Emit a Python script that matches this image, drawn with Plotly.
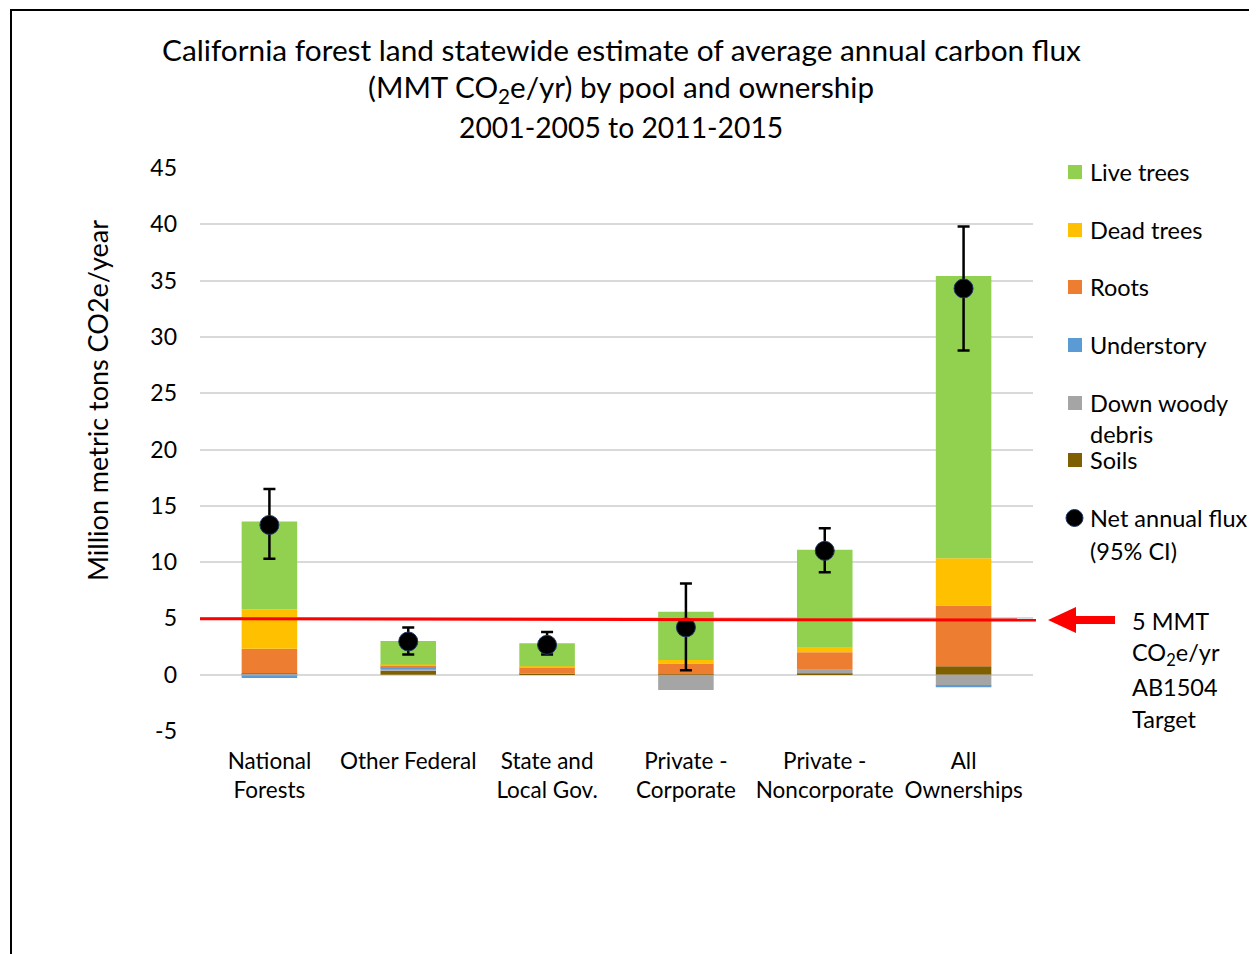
import plotly.graph_objects as go

# ---------------- data ----------------
categories = ["National<br>Forests", "Other Federal", "State and<br>Local Gov.",
              "Private -<br>Corporate", "Private -<br>Noncorporate", "All<br>Ownerships"]
soils = [0.1, 0.35, 0.1, 0.05, 0.1, 0.75]
down_woody = [-0.1, 0.2, 0.05, -1.35, 0.35, -1.0]
understory = [-0.2, 0.05, 0.0, 0.0, 0.0, -0.12]
roots = [2.2, 0.25, 0.5, 0.95, 1.55, 5.4]
dead_trees = [3.5, 0.05, 0.1, 0.3, 0.4, 4.2]
live_trees = [7.8, 2.1, 2.05, 4.3, 8.7, 25.05]
net_flux = [13.3, 2.95, 2.65, 4.2, 11.0, 34.3]
ci_low = [10.3, 1.8, 1.8, 0.4, 9.1, 28.8]
ci_high = [16.5, 4.2, 3.8, 8.1, 13.0, 39.8]
y_ticks = [-5, 0, 5, 10, 15, 20, 25, 30, 35, 40, 45]
y_tick_labels = ["-5", "0", "5", "10", "15", "20", "25", "30", "35", "40", "45"]
target = 5

series_names = ["Soils", "Down woody debris", "Understory", "Roots", "Dead trees", "Live trees"]
series_values = [soils, down_woody, understory, roots, dead_trees, live_trees]
series_colors = ["#7F6000", "#A5A5A5", "#5B9BD5", "#ED7D31", "#FFC000", "#92D050"]

FONT = "Lato"
OFF = 8                      # page body margin
W, H = 1257 - OFF, 954 - OFF
L, R, T, B = 200, 1033, 168, 731  # plot area in page pixels


def px(x):
    return (x - L) / (R - L)


def py(y):
    return (B - y) / (B - T)


fig = go.Figure()
for name, vals, col in zip(series_names, series_values, series_colors):
    fig.add_trace(go.Bar(x=categories, y=vals, name=name, marker_color=col,
                         marker_line_width=0))

fig.add_trace(go.Scatter(
    x=categories, y=net_flux, mode="markers", name="Net annual flux (95% CI)",
    marker=dict(size=19, color="black", line=dict(color="#1F3864", width=1)),
    error_y=dict(type="data", symmetric=False,
                 array=[h - n for h, n in zip(ci_high, net_flux)],
                 arrayminus=[n - l for n, l in zip(net_flux, ci_low)],
                 color="black", thickness=2.5, width=6),
))

shapes = []
annotations = []

# outer border
shapes.append(dict(type="rect", xref="paper", yref="paper",
                   x0=px(11), x1=px(1300), y0=py(10), y1=py(1000),
                   line=dict(color="black", width=2), fillcolor="rgba(0,0,0,0)", layer="below"))

# target line
shapes.append(dict(type="line", xref="paper", yref="y", x0=0, x1=px(1036),
                   y0=target - 0.03, y1=target - 0.15, line=dict(color="#FF0000", width=3)))

# arrow
ax = [1048, 1076, 1076, 1115, 1115, 1076, 1076]
ay = [620, 607, 616, 616, 624, 624, 633]
path = "M " + " L ".join(f"{px(a):.5f},{py(b):.5f}" for a, b in zip(ax, ay)) + " Z"
shapes.append(dict(type="path", xref="paper", yref="paper", path=path,
                   fillcolor="#FF0000", line=dict(color="#FF0000", width=0)))

# title
title_lines = ["California forest land statewide estimate of average annual carbon flux",
               "(MMT CO<sub>2</sub>e/yr) by pool and ownership",
               "2001-2005 to 2011-2015"]
for txt, yy, fs in zip(title_lines, [50, 89, 127], [29.8, 29.6, 28.3]):
    annotations.append(dict(text=txt, xref="paper", yref="paper", x=px(621), y=py(yy),
                            xanchor="center", yanchor="middle", showarrow=False,
                            font=dict(family=FONT, size=fs, color="black")))

# y-axis title
annotations.append(dict(text="Million metric tons CO2e/year", xref="paper", yref="paper",
                        x=px(97), y=py(401), textangle=-90, xanchor="center", yanchor="middle",
                        showarrow=False, font=dict(family=FONT, size=27, color="black")))

# legend (manual)
LEG = 23.5
legend_rows = [("Live trees", "#92D050", 172), ("Dead trees", "#FFC000", 230),
               ("Roots", "#ED7D31", 287), ("Understory", "#5B9BD5", 345),
               ("Down woody", "#A5A5A5", 403), ("Soils", "#7F6000", 460)]
for txt, col, yy in legend_rows:
    shapes.append(dict(type="rect", xref="paper", yref="paper",
                       x0=px(1068), x1=px(1082), y0=py(yy - 7), y1=py(yy + 7),
                       fillcolor=col, line=dict(width=0)))
    annotations.append(dict(text=txt, xref="paper", yref="paper", x=px(1088), y=py(yy),
                            xanchor="left", yanchor="middle", showarrow=False,
                            font=dict(family=FONT, size=LEG, color="black")))
extra_lines = [("debris", 434), ("Net annual flux", 518), ("(95% CI)", 551)]
for txt, yy in extra_lines:
    annotations.append(dict(text=txt, xref="paper", yref="paper", x=px(1088), y=py(yy),
                            xanchor="left", yanchor="middle", showarrow=False,
                            font=dict(family=FONT, size=LEG, color="black")))
shapes.append(dict(type="circle", xref="paper", yref="paper",
                   x0=px(1066), x1=px(1083), y0=py(509.5), y1=py(526.5),
                   fillcolor="black", line=dict(color="#1F3864", width=1)))

# target label
for txt, yy in [("5 MMT", 621), ("CO<sub>2</sub>e/yr", 654), ("AB1504", 687), ("Target", 719)]:
    annotations.append(dict(text=txt, xref="paper", yref="paper", x=px(1130), y=py(yy),
                            xanchor="left", yanchor="middle", showarrow=False,
                            font=dict(family=FONT, size=23.5, color="black")))

fig.update_layout(
    width=W, height=H,
    margin=dict(l=L - OFF, r=W - (R - OFF), t=T - OFF, b=H - (B - OFF), autoexpand=False),
    barmode="relative", bargap=0.6,
    showlegend=False,
    plot_bgcolor="white", paper_bgcolor="white",
    font=dict(family=FONT, size=22, color="black"),
    shapes=shapes, annotations=annotations,
    xaxis=dict(showgrid=False, ticks="", showline=False, automargin=False,
               ticklabelstandoff=14,
               tickfont=dict(family=FONT, size=22.5, color="black")),
    yaxis=dict(range=[-5, 45], tickvals=y_ticks, ticktext=y_tick_labels,
               showgrid=True, gridcolor="#D9D9D9",
               gridwidth=1.5, zeroline=True, zerolinecolor="#D9D9D9", zerolinewidth=1.5,
               ticks="", showline=False, automargin=False, ticklabelstandoff=22,
               tickfont=dict(family=FONT, size=23, color="black")),
)

fig.write_html("out.html")
